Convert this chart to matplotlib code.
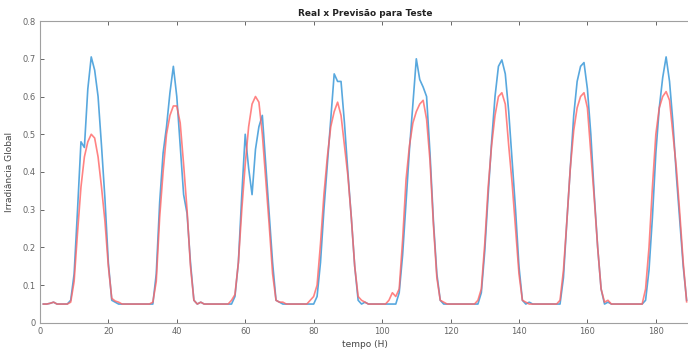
#!/usr/bin/env python3

import numpy as np
import matplotlib
matplotlib.use("Agg")
import matplotlib.pyplot as plt

# irradiancia real, uma linha por dia (24 h)
real = [
    0.05, 0.05, 0.052, 0.055, 0.05, 0.05, 0.05, 0.05, 0.06, 0.13, 0.30, 0.48, 0.465, 0.62, 0.705, 0.67, 0.60, 0.47, 0.33, 0.16, 0.06, 0.055, 0.05, 0.05,
    0.05, 0.05, 0.05, 0.05, 0.05, 0.05, 0.05, 0.05, 0.05, 0.13, 0.32, 0.45, 0.52, 0.61, 0.68, 0.60, 0.47, 0.34, 0.29, 0.16, 0.06, 0.05, 0.055, 0.05,
    0.05, 0.05, 0.05, 0.05, 0.05, 0.05, 0.05, 0.05, 0.07, 0.16, 0.34, 0.50, 0.41, 0.34, 0.46, 0.52, 0.55, 0.42, 0.29, 0.16, 0.06, 0.055, 0.05, 0.05,
    0.05, 0.05, 0.05, 0.05, 0.05, 0.05, 0.05, 0.05, 0.07, 0.16, 0.30, 0.42, 0.54, 0.66, 0.64, 0.64, 0.53, 0.40, 0.28, 0.15, 0.06, 0.05, 0.055, 0.05,
    0.05, 0.05, 0.05, 0.05, 0.05, 0.05, 0.05, 0.05, 0.08, 0.18, 0.32, 0.46, 0.58, 0.70, 0.645, 0.625, 0.60, 0.45, 0.27, 0.13, 0.06, 0.05, 0.05, 0.05,
    0.05, 0.05, 0.05, 0.05, 0.05, 0.05, 0.05, 0.05, 0.08, 0.19, 0.34, 0.48, 0.60, 0.68, 0.697, 0.66, 0.56, 0.43, 0.30, 0.15, 0.06, 0.05, 0.055, 0.05,
    0.05, 0.05, 0.05, 0.05, 0.05, 0.05, 0.05, 0.05, 0.12, 0.27, 0.41, 0.55, 0.64, 0.68, 0.69, 0.62, 0.50, 0.34, 0.20, 0.09, 0.05, 0.055, 0.05, 0.05,
    0.05, 0.05, 0.05, 0.05, 0.05, 0.05, 0.05, 0.05, 0.06, 0.14, 0.28, 0.45, 0.57, 0.65, 0.705, 0.64, 0.53, 0.39, 0.27, 0.15, 0.06,
]

# previsao da rede
previsao = [
    0.05, 0.05, 0.052, 0.055, 0.05, 0.05, 0.05, 0.05, 0.055, 0.11, 0.24, 0.36, 0.44, 0.48, 0.50, 0.49, 0.44, 0.36, 0.27, 0.15, 0.065, 0.058, 0.055, 0.05,
    0.05, 0.05, 0.05, 0.05, 0.05, 0.05, 0.05, 0.05, 0.055, 0.11, 0.28, 0.40, 0.50, 0.55, 0.575, 0.575, 0.53, 0.42, 0.30, 0.15, 0.06, 0.05, 0.055, 0.05,
    0.05, 0.05, 0.05, 0.05, 0.05, 0.05, 0.05, 0.06, 0.075, 0.16, 0.30, 0.42, 0.52, 0.58, 0.60, 0.585, 0.50, 0.38, 0.26, 0.13, 0.06, 0.055, 0.055, 0.05,
    0.05, 0.05, 0.05, 0.05, 0.05, 0.05, 0.06, 0.07, 0.10, 0.21, 0.34, 0.44, 0.52, 0.56, 0.585, 0.55, 0.47, 0.39, 0.28, 0.15, 0.07, 0.06, 0.055, 0.05,
    0.05, 0.05, 0.05, 0.05, 0.05, 0.06, 0.08, 0.07, 0.09, 0.22, 0.38, 0.47, 0.53, 0.56, 0.58, 0.59, 0.54, 0.43, 0.26, 0.12, 0.06, 0.055, 0.05, 0.05,
    0.05, 0.05, 0.05, 0.05, 0.05, 0.05, 0.05, 0.06, 0.09, 0.21, 0.36, 0.47, 0.55, 0.60, 0.61, 0.58, 0.47, 0.37, 0.25, 0.13, 0.06, 0.055, 0.05, 0.05,
    0.05, 0.05, 0.05, 0.05, 0.05, 0.05, 0.05, 0.06, 0.14, 0.27, 0.41, 0.51, 0.57, 0.60, 0.61, 0.57, 0.45, 0.33, 0.20, 0.09, 0.055, 0.06, 0.05, 0.05,
    0.05, 0.05, 0.05, 0.05, 0.05, 0.05, 0.05, 0.05, 0.09, 0.20, 0.36, 0.50, 0.57, 0.60, 0.613, 0.59, 0.50, 0.41, 0.29, 0.16, 0.056,
]

xticks = list(range(0, 181, 20))
yticks = [0, 0.1, 0.2, 0.3, 0.4, 0.5, 0.6, 0.7, 0.8]
ytick_labels = ['0', '0.1', '0.2', '0.3', '0.4', '0.5', '0.6', '0.7', '0.8']

t = np.arange(1, len(real) + 1)

plt.rcParams['font.family'] = ['DejaVu Sans']
fig = plt.figure(figsize=(6.88, 3.51), dpi=100)
ax = fig.add_axes([0.058, 0.080, 0.945, 0.860])

ax.plot(t, real, color='#58a8de', lw=1.2)
ax.plot(t, previsao, color='#ff6464', lw=1.2, alpha=0.8)

ax.set_xlim(0, 190)
ax.set_ylim(0, 0.8)
ax.set_xticks(xticks)
ax.set_yticks(yticks)
ax.set_yticklabels(ytick_labels)
ax.tick_params(direction='in', length=3, width=0.7, colors='#666666', labelsize=6,
               top=True, right=False, pad=3)
for s in ax.spines.values():
    s.set_color('#a0a0a0')
    s.set_linewidth(0.8)
ax.spines['right'].set_visible(False)

ax.set_title('Real x Previsão para Teste', fontsize=6.5, fontweight='bold', pad=4, color='#222222')
ax.set_xlabel('tempo (H)', fontsize=6.5, color='#444444', labelpad=3)
ax.set_ylabel('Irradiância Global', fontsize=6.5, color='#444444', labelpad=6)

fig.savefig('out.png', dpi=100)
